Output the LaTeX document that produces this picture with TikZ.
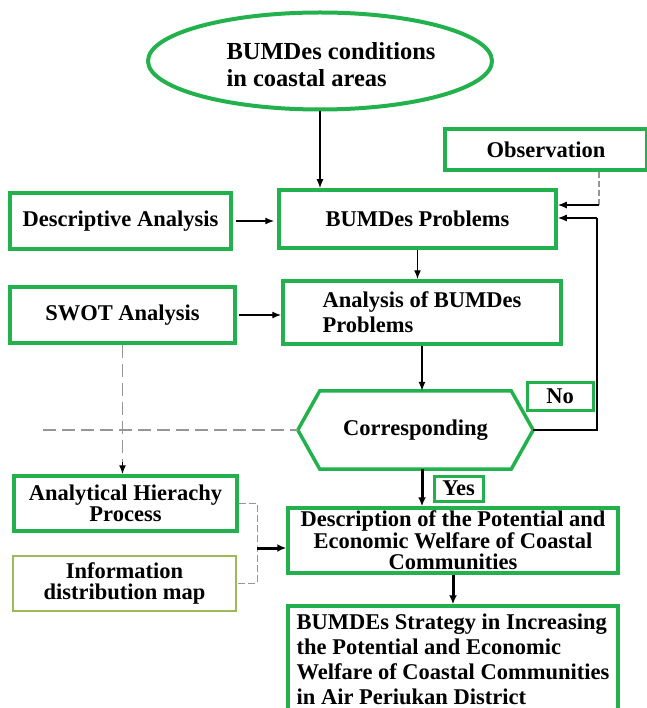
\documentclass[tikz,border=0pt]{standalone}
\usepackage{fontspec}
\setmainfont{Liberation Serif}
\usetikzlibrary{shapes.geometric,arrows.meta}
\definecolor{boxgreen}{RGB}{34,177,76}
\definecolor{olivegreen}{RGB}{155,187,89}
\definecolor{dashgray}{RGB}{150,150,150}
\tikzset{
  gbox/.style={draw=boxgreen, line width=3.5pt, inner sep=0pt, align=center},
  thinbox/.style={draw=olivegreen, line width=1.2pt, inner sep=0pt, align=center},
  arr/.style={-{Latex[length=9pt,width=7pt]}, line width=1.4pt},
  thickarr/.style={-{Latex[length=9pt,width=8pt]}, line width=3pt},
  dline/.style={draw=dashgray, line width=1.2pt, dash pattern=on 13pt off 6pt},
  bline/.style={draw=dashgray, line width=1pt, dash pattern=on 7pt off 3pt}
}
\begin{document}
\begin{tikzpicture}[x=1pt, y=-1pt, font=\fontsize{22.5}{25}\selectfont\bfseries]
  \useasboundingbox (0,0) rectangle (646,708);

  % top ellipse
  \node[gbox, ellipse, line width=4pt, minimum width=344pt, minimum height=97pt] (cond) at (320,61) {};
  \node[align=left, inner sep=0pt, font=\fontsize{24.5}{27}\selectfont\bfseries]
        (condtxt) at ([xshift=11pt, yshift=-4pt]cond.center) {BUMDes conditions\\in coastal areas};

  % main column
  \node[gbox, minimum width=277pt, minimum height=58pt] (prob) at (417.5,219) {BUMDes Problems};
  \node[gbox, minimum width=202pt, minimum height=41pt] (obs) at (546,149.5) {Observation};
  \node[gbox, minimum width=221pt, minimum height=56pt] (desc) at (120.5,221) {Descriptive Analysis};
  \node[gbox, minimum width=278pt, minimum height=63pt, align=left] (anl) at (422,312.5)
        {Analysis of BUMDes\\Problems};
  \node[gbox, minimum width=225pt, minimum height=56pt] (swot) at (122.5,315) {SWOT Analysis};

  % decision
  \node[minimum width=235pt, minimum height=78pt, inner sep=0pt] (corr) at (415.5,430) {Corresponding};
  \draw[draw=boxgreen, line width=3.5pt, line join=miter]
    (corr.west) -- ([xshift=22pt]corr.north west) -- ([xshift=-22pt]corr.north east)
    -- (corr.east) -- ([xshift=-22pt]corr.south east) -- ([xshift=22pt]corr.south west) -- cycle;
  \node[gbox, line width=3pt, minimum width=66pt, minimum height=28pt] (no) at (560,396) {No};
  \node[gbox, line width=3pt, minimum width=49pt, minimum height=25pt] (yes) at (458.5,488.5) {Yes};

  % lower part
  \node[gbox, minimum width=223pt, minimum height=55pt, font=\fontsize{22.5}{21.5}\selectfont\bfseries]
        (ahp) at (125.5,503.5) {Analytical Hierachy\\Process};
  \node[thinbox, minimum width=223pt, minimum height=55pt, font=\fontsize{22.5}{21.5}\selectfont\bfseries]
        (info) at (124.5,583.5) {Information\\distribution map};
  \node[gbox, minimum width=330pt, minimum height=65pt, font=\fontsize{22.5}{21.5}\selectfont\bfseries]
        (descr) at (453,540.5) {Description of the Potential and\\Economic Welfare of Coastal\\Communities};
  \node[gbox, minimum width=330pt, minimum height=106pt, align=left]
        (strat) at (453,659) {BUMDEs Strategy in Increasing\\the Potential and Economic\\Welfare of Coastal Communities\\in Air Periukan District};

  \coordinate (fbk) at (597,218);
  \coordinate (obsc) at (599,205);
  \coordinate (dl) at (43,430);
  \coordinate (brk) at (257,548);

  % connectors
  \draw[arr] (cond.south) -- (cond.south |- prob.north);
  \draw[arr, shorten <=3pt, shorten >=3pt] (desc.east) -- (desc.east -| prob.west);
  \draw[arr] (prob.south) -- (prob.south |- anl.north);
  \draw[arr, shorten <=2pt] (swot.east) -- (swot.east -| anl.west);
  \draw[arr] (anl.south) -- (anl.south |- corr.north);
  \draw[line width=1.2pt] (corr.east) -| (fbk);
  \draw[arr] (fbk) -- (fbk -| prob.east);
  \draw[dline, dash pattern=on 6pt off 3pt] (obs.south -| obsc) -- (obsc);
  \draw[arr] (obsc) -- (obsc -| prob.east);
  \draw[thickarr] (anl.south |- corr.south) -- (anl.south |- descr.north);
  \draw[thickarr] (descr.south) -- (descr.south |- strat.north);

  % dashed links
  \draw[dline] (dl) -- (corr.west);
  \draw[dline] (swot.south) -- ([yshift=10pt]swot.south |- ahp.north);
  \draw[arr] ([yshift=12pt]swot.south |- ahp.north) -- (swot.south |- ahp.north);
  \draw[bline] (ahp.east) -| (brk) |- (info.east);
  \draw[thickarr] (brk) -- (brk -| descr.west);
\end{tikzpicture}
\end{document}
